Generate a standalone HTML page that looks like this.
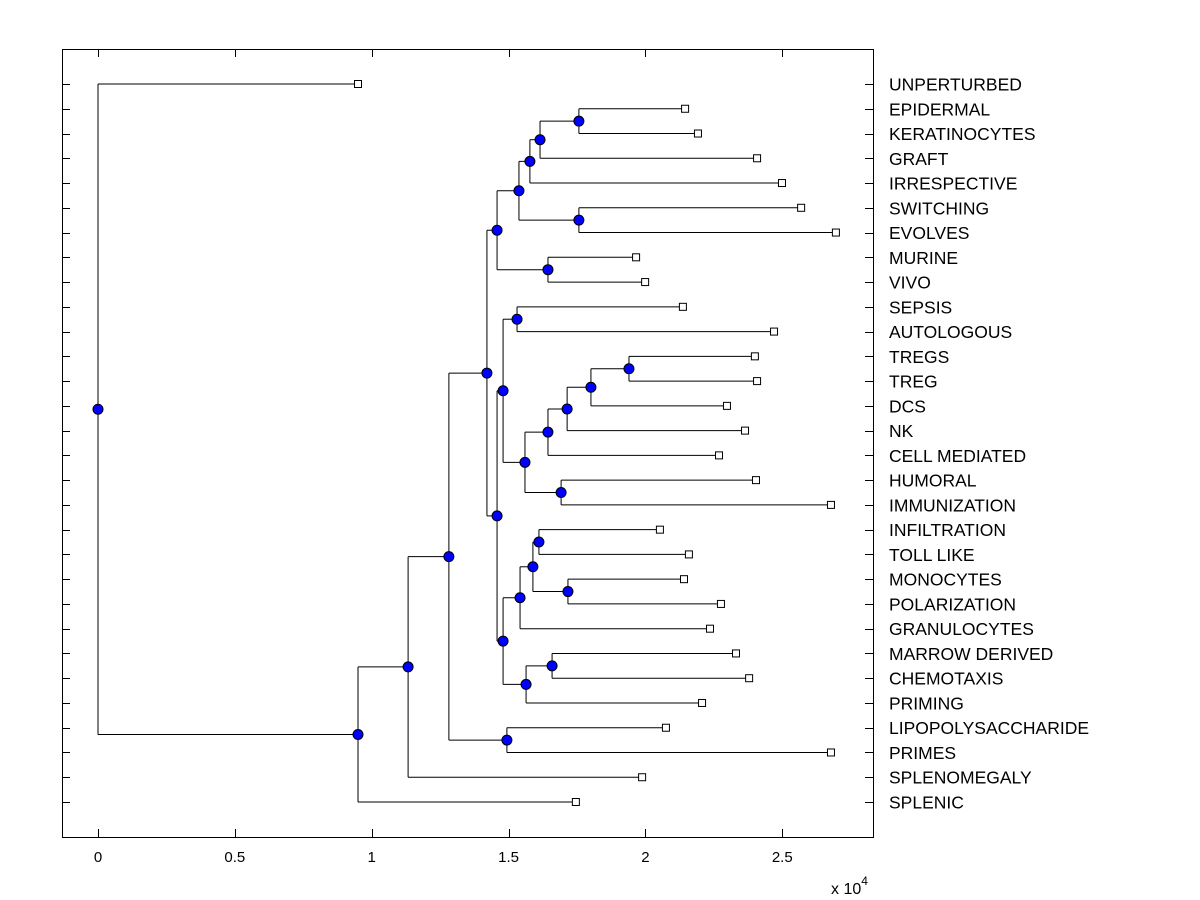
<!DOCTYPE html>
<html><head><meta charset="utf-8"><style>
html,body{margin:0;padding:0;background:#fff;}
svg{display:block;font-family:"Liberation Sans",Arial,sans-serif;}
</style></head><body>
<svg id="chart" width="1200" height="900" xmlns="http://www.w3.org/2000/svg"></svg>
<script>
const leafNames=["UNPERTURBED","EPIDERMAL","KERATINOCYTES","GRAFT","IRRESPECTIVE","SWITCHING","EVOLVES","MURINE","VIVO","SEPSIS","AUTOLOGOUS","TREGS","TREG","DCS","NK","CELL MEDIATED","HUMORAL","IMMUNIZATION","INFILTRATION","TOLL LIKE","MONOCYTES","POLARIZATION","GRANULOCYTES","MARROW DERIVED","CHEMOTAXIS","PRIMING","LIPOPOLYSACCHARIDE","PRIMES","SPLENOMEGALY","SPLENIC"];
const leafValues=[0.950,2.145,2.192,2.408,2.499,2.569,2.696,1.966,1.999,2.137,2.470,2.400,2.408,2.298,2.364,2.269,2.404,2.678,2.053,2.159,2.141,2.276,2.236,2.331,2.379,2.207,2.075,2.678,1.988,1.746];
const nodeNames=["root","A","B","C","D","E","F","G","H","I","J","K","L","M","N","O","P","Q","R","S","T","U","V","W","X","Y","Z","AA","BB"];
const nodeValues=[0,0.950,1.133,1.282,1.421,1.494,1.458,1.458,1.538,1.644,1.578,1.757,1.615,1.757,1.480,1.480,1.531,1.560,1.644,1.692,1.714,1.801,1.940,1.542,1.564,1.589,1.611,1.717,1.659];
const nodeChildren=[[0,"A"],["B",29],["C",28],["D","E"],["F","G"],[26,27],["H","I"],["N","O"],["J","K"],[7,8],["L",4],[5,6],["M",3],[1,2],["P","Q"],["W","X"],[9,10],["R","S"],["T",15],[16,17],["U",14],["V",13],[11,12],["Y",22],["BB",25],["Z","AA"],[18,19],[20,21],[23,24]];
const xTicks=[0,0.5,1,1.5,2,2.5];
const xTickLabels=["0","0.5","1","1.5","2","2.5"];

const NS="http://www.w3.org/2000/svg";
const svg=document.getElementById("chart");
const L=62,R=873,T=49,B=837;
const xs=v=>98+v*273.7;
const ys=i=>84+i*(802-84)/(leafNames.length-1);
function mk(tag,attrs,parent){const e=document.createElementNS(NS,tag);for(const k in attrs)e.setAttribute(k,attrs[k]);(parent||svg).appendChild(e);return e;}

const frame=mk("rect",{x:L+0.5,y:T+0.5,width:R-L,height:B-T,fill:"none",stroke:"#000"});



leafNames.forEach((n,i)=>{
  const y=Math.round(ys(i))+0.5;
  const t1=mk("line",{x1:L,x2:L+8,y1:y,y2:y,stroke:"#000"});
  
  
  const t2=mk("line",{x1:R-8,x2:R,y1:y,y2:y,stroke:"#000"});
  
  
  const tx=mk("text",{x:889,y:ys(i)+6.5,"font-size":"17.5",fill:"#000"});
  tx.textContent=n;
  
  
});
xTicks.forEach((v,i)=>{
  const x=Math.round(xs(v))+0.5;
  const t1=mk("line",{x1:x,x2:x,y1:B,y2:B-8,stroke:"#000"});
  
  
  const t2=mk("line",{x1:x,x2:x,y1:T,y2:T+8,stroke:"#000"});
  
  
  const tx=mk("text",{x:xs(v),y:862,"font-size":"15","text-anchor":"middle",fill:"#000"});
  tx.textContent=xTickLabels[i];
  
  
});
const ex=mk("text",{x:831,y:894,"font-size":"16",fill:"#000"});
ex.innerHTML='x 10<tspan dy="-9" font-size="12">4</tspan>';



const idx={};nodeNames.forEach((n,i)=>idx[n]=i);
function pos(c){
  if(typeof c==="number")return {x:xs(leafValues[c]),y:ys(c),leaf:true};
  const i=idx[c];const a=pos(nodeChildren[i][0]),b=pos(nodeChildren[i][1]);
  return {x:xs(nodeValues[i]),y:(a.y+b.y)/2,leaf:false};
}
const lines=mk("g",{stroke:"#000","stroke-width":1,fill:"none"});
const marks=mk("g",{});
nodeNames.forEach((n,i)=>{
  const p=pos(n);
  const kids=nodeChildren[i].map(pos);
  const vl=mk("line",{x1:p.x,x2:p.x,y1:kids[0].y,y2:kids[1].y},lines);
  
  
  kids.forEach(k=>{
    const hl=mk("line",{x1:p.x,x2:k.x,y1:k.y,y2:k.y},lines);
    
    
  });
});
nodeNames.forEach((n,i)=>{
  const p=pos(n);
  const c=mk("circle",{cx:p.x,cy:p.y,r:5,fill:"#0000ff",stroke:"#000"},marks);
  
  
});
leafNames.forEach((n,i)=>{
  const p=pos(i);
  const s=mk("rect",{x:p.x-3.5,y:p.y-3.5,width:7,height:7,fill:"#fff",stroke:"#000"},marks);
  
  
});
</script>
</body></html>
